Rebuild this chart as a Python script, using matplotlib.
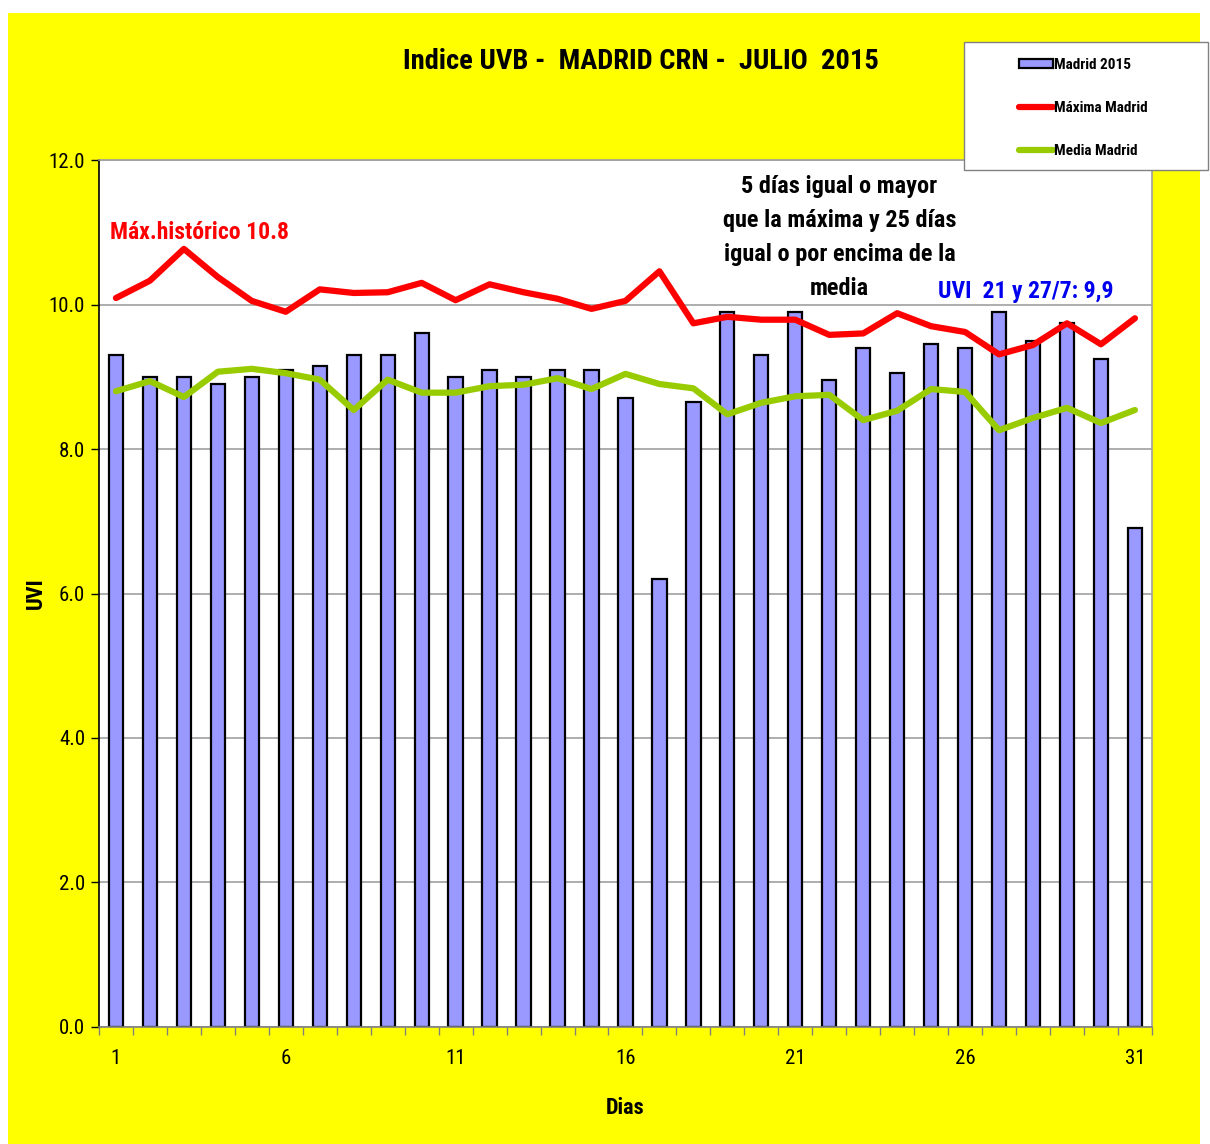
import numpy as np
import matplotlib.pyplot as plt
from matplotlib.patches import Rectangle

plt.rcParams['font.family'] = ['Roboto Condensed', 'DejaVu Sans']

# data (UV index, July 2015)
dias = list(range(1, 32))
madrid_2015 = [9.3, 9.0, 9.0, 8.9, 9.0, 9.1, 9.15, 9.3, 9.3, 9.6,
               9.0, 9.1, 9.0, 9.1, 9.1, 8.7, 6.2, 8.65, 9.9, 9.3,
               9.9, 8.95, 9.4, 9.05, 9.45, 9.4, 9.9, 9.5, 9.75, 9.25,
               6.9]
maxima_madrid = [10.09, 10.33, 10.77, 10.38, 10.05, 9.90, 10.21, 10.16, 10.17, 10.30,
                 10.06, 10.28, 10.17, 10.08, 9.94, 10.05, 10.46, 9.74, 9.83, 9.79,
                 9.79, 9.58, 9.60, 9.88, 9.70, 9.62, 9.31, 9.44, 9.74, 9.45,
                 9.81]
media_madrid = [8.80, 8.94, 8.72, 9.07, 9.11, 9.05, 8.96, 8.54, 8.96, 8.78,
                8.78, 8.87, 8.89, 8.98, 8.83, 9.04, 8.90, 8.84, 8.48, 8.64,
                8.73, 8.75, 8.40, 8.53, 8.83, 8.79, 8.26, 8.43, 8.57, 8.36,
                8.54]
x_labels = [1, 6, 11, 16, 21, 26, 31]

fig = plt.figure(figsize=(12.1, 11.44), dpi=100)
fig.patch.set_facecolor('white')
# yellow chart area behind everything
fig.patches.append(Rectangle((0.0066, 0.0), 0.985, 0.9886, transform=fig.transFigure,
                             facecolor='#FFFF00', edgecolor='none', zorder=-10))

ax = fig.add_axes([0.0818, 0.1023, 0.8702, 0.7578])
ax.set_facecolor('white')

bars = ax.bar(dias, madrid_2015, width=0.42, color='#9999FF', edgecolor='black',
              linewidth=1.6, zorder=2, label='Madrid 2015')
l_max, = ax.plot(dias, maxima_madrid, color='#FF0000', linewidth=4.5, zorder=3,
                 solid_capstyle='round', label='Máxima Madrid')
l_med, = ax.plot(dias, media_madrid, color='#99CC00', linewidth=4.5, zorder=3,
                 solid_capstyle='round', label='Media Madrid')

ax.set_xlim(0.5, 31.5)
ax.set_ylim(0, 12)
yt = np.arange(0, 12.1, 2)
ax.set_yticks(yt)
ax.set_yticklabels([f"{v:.1f}" for v in yt], fontsize=15)
ax.yaxis.grid(True, color='#A0A0A0', linewidth=1.2, zorder=0)
ax.set_axisbelow(True)

ax.set_xticks(x_labels)
ax.set_xticklabels([str(v) for v in x_labels], fontsize=15)
ax.set_xticks(np.arange(0.5, 31.6, 1), minor=True)
ax.tick_params(axis='x', which='major', length=0, pad=16)
ax.tick_params(axis='x', which='minor', length=6, width=1, color='#808080', direction='out')
ax.tick_params(axis='y', length=6, width=1, direction='out', pad=4)

for side in ['top', 'right']:
    ax.spines[side].set_color('#A0A0A0')
    ax.spines[side].set_linewidth(1.2)
ax.spines['left'].set_color('black')
ax.spines['left'].set_linewidth(1.2)
ax.spines['bottom'].set_color('#808080')
ax.spines['bottom'].set_linewidth(1.2)

ax.set_xlabel('Dias', fontsize=16, fontweight='bold', labelpad=21)
ax.set_ylabel('UVI', fontsize=16, fontweight='bold', labelpad=1)

fig.text(0.53, 0.946, 'Indice UVB -  MADRID CRN -  JULIO  2015', ha='center', va='center',
         fontsize=20.5, fontweight='bold')

ax.text(0.82, 11.0, 'Máx.histórico 10.8', color='#FF0000', fontsize=17,
        fontweight='bold', ha='left', va='center')
ax.text(22.3, 10.93, '5 días igual o mayor\nque la máxima y 25 días\nigual o por encima de la\nmedia',
        ha='center', va='center', fontsize=17.5, fontweight='bold', linespacing=1.6)
ax.text(25.2, 10.18, 'UVI  21 y 27/7: 9,9', color='#0000EE', fontsize=17,
        fontweight='bold', ha='left', va='center')

# legend box drawn separately so it can be as wide as in the original
fig.patches.append(Rectangle((0.7967, 0.8514), 0.2017, 0.1119, transform=fig.transFigure,
                             facecolor='white', edgecolor='#808080', linewidth=1.0, zorder=5))
leg = fig.legend(handles=[bars, l_max, l_med], loc='upper left',
                 bbox_to_anchor=(1019 / 1210, 1 - 58 / 1144), fontsize=11,
                 frameon=False, handlelength=2.2, handleheight=0.6,
                 labelspacing=1.9, borderpad=0, borderaxespad=0, handletextpad=0.12)
leg.set_zorder(6)
for t in leg.get_texts():
    t.set_fontweight('bold')

fig.savefig('out.png', dpi=100, facecolor=fig.get_facecolor())
